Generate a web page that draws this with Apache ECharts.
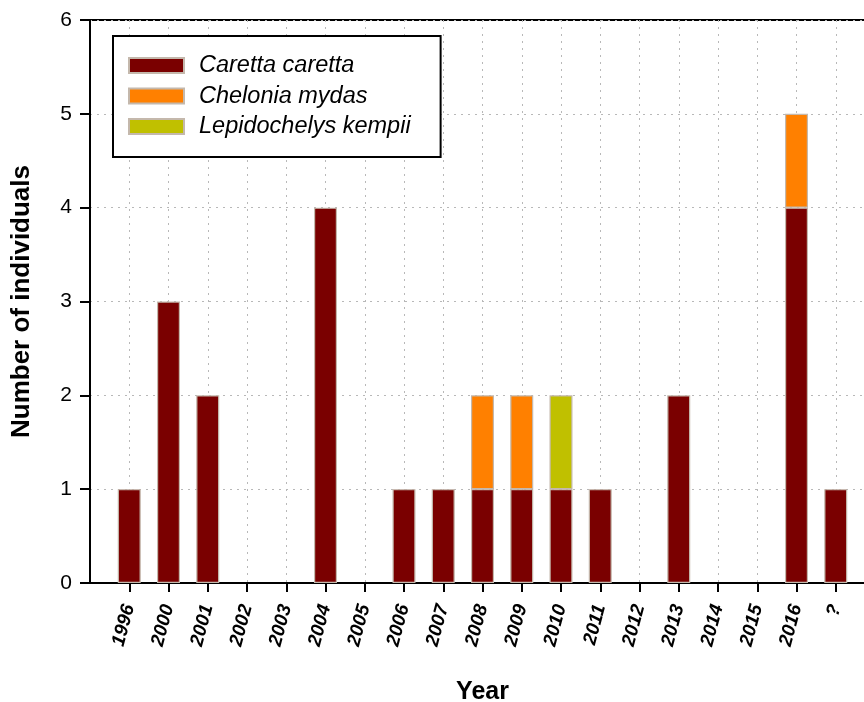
<!DOCTYPE html>
<html>
<head>
<meta charset="utf-8">
<script src="https://cdn.jsdelivr.net/npm/echarts@6/dist/echarts.min.js"></script>
<style>html,body{margin:0;padding:0;background:#fff;}#c{width:864px;height:702px;}</style>
</head>
<body>
<div id="c"></div>
<script>
const years = ['1996','2000','2001','2002','2003','2004','2005','2006','2007','2008','2009','2010','2011','2012','2013','2014','2015','2016','?'];
const caretta = [1,3,2,0,0,4,0,1,1,1,1,1,1,0,2,0,0,4,1];
const chelonia = [0,0,0,0,0,0,0,0,0,1,1,0,0,0,0,0,0,1,0];
const lepido = [0,0,0,0,0,0,0,0,0,0,0,1,0,0,0,0,0,0,0];
const seriesNames = ['Caretta caretta','Chelonia mydas','Lepidochelys kempii'];
const colors = ['#7a0000','#ff8000','#c0c000'];
const yTicks = [0,1,2,3,4,5,6];

const cats = [''].concat(years, ['']);
const pad = arr => [null].concat(arr.map(v => v === 0 ? null : v), [null]);
const inner = i => i > 0 && i < cats.length - 1;
const font = 'Liberation Sans, Arial, sans-serif';

const chart = echarts.init(document.getElementById('c'), null, {renderer: 'canvas'});
chart.setOption({
  animation: false,
  textStyle: {fontFamily: font},
  grid: {left: 90, top: 20, height: 563, width: 785, outerBoundsMode: 'none', containLabel: false,
         show: true, borderColor: '#000', borderWidth: 2, backgroundColor: 'transparent'},
  legend: {
    orient: 'vertical', left: 113, top: 36,
    backgroundColor: '#fff', borderColor: '#000', borderWidth: 2,
    padding: [18, 30, 19, 15],
    icon: 'rect',
    itemWidth: 55, itemHeight: 15, itemGap: 7.5,
    textStyle: {fontFamily: font, fontStyle: 'italic', fontSize: 23.5, color: '#000', padding: [0,0,0,10]},
    data: seriesNames
  },
  xAxis: {
    type: 'category', data: cats, boundaryGap: false,
    name: 'Year', nameLocation: 'middle', nameGap: 97,
    nameTextStyle: {fontFamily: font, fontWeight: 'bold', fontSize: 25, color: '#000'},
    axisLine: {lineStyle: {color: '#000', width: 2}},
    axisTick: {show: true, length: 9, interval: inner, lineStyle: {color: '#000', width: 2}},
    axisLabel: {interval: 0, rotate: 75, margin: 22, fontFamily: font, fontWeight: 'bold', fontStyle: 'italic', fontSize: 19, color: '#000'},
    splitLine: {show: true, interval: inner, lineStyle: {color: '#b8b8b8', type: [2, 5], width: 1}}
  },
  yAxis: {
    type: 'value', min: yTicks[0], max: yTicks[yTicks.length-1], interval: 1,
    name: 'Number of individuals', nameLocation: 'middle', nameGap: 55,
    nameTextStyle: {fontFamily: font, fontWeight: 'bold', fontSize: 26, color: '#000'},
    axisLine: {show: true, lineStyle: {color: '#000', width: 2}},
    axisTick: {show: true, length: 10, lineStyle: {color: '#000', width: 2}},
    axisLabel: {margin: 18, fontFamily: font, fontSize: 21, color: '#000'},
    splitLine: {show: true, lineStyle: {color: '#b8b8b8', type: [2, 5], width: 1}}
  },
  series: [caretta, chelonia, lepido].map((arr, k) => ({
    name: seriesNames[k], type: 'bar', stack: 'total', barWidth: 23,
    data: pad(arr),
    itemStyle: {color: colors[k], borderColor: '#c4b8ac', borderWidth: 1.2}
  }))
});
</script>
</body>
</html>
